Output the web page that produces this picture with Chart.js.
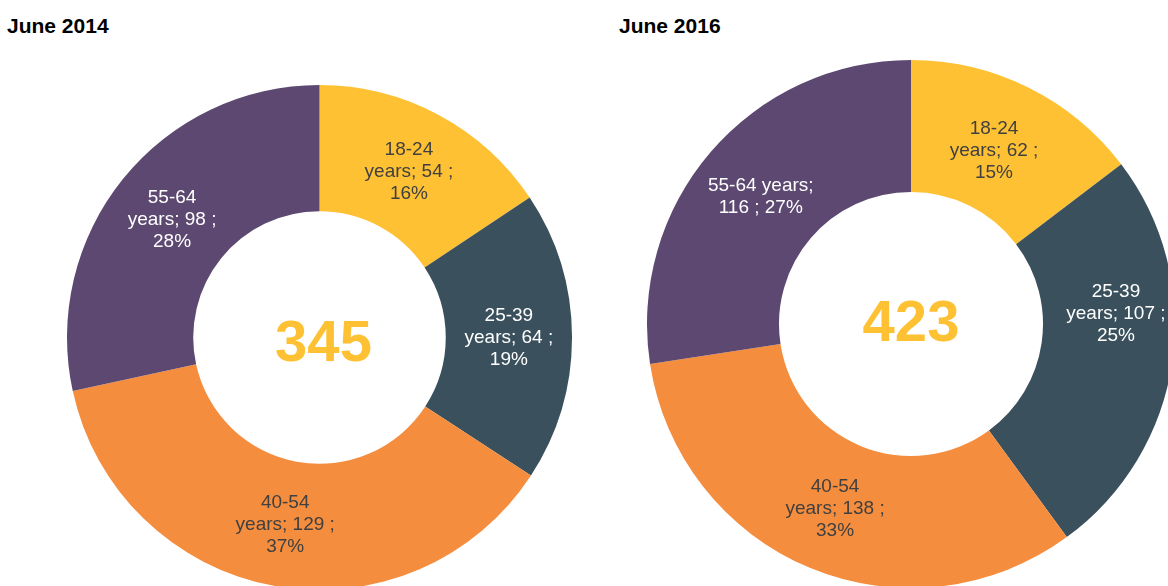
<!DOCTYPE html>
<html>
<head>
<meta charset="utf-8">
<script src="https://cdn.jsdelivr.net/npm/chart.js@4/dist/chart.umd.min.js"></script>
<style>
  html, body { margin:0; padding:0; width:1168px; height:586px; overflow:hidden; background:#fff; }
  .title { position:absolute; font-family:"Liberation Sans", Arial, sans-serif; font-weight:bold; font-size:21px; line-height:21px; color:#000; white-space:nowrap; }
  .box { position:absolute; }
</style>
</head>
<body>
<div class="title" id="t1" style="left:7px; top:15px;"></div>
<div class="title" id="t2" style="left:619px; top:15px;"></div>
<div class="box" style="left:67px; top:85px; width:505px; height:505px;"><canvas id="c1"></canvas></div>
<div class="box" style="left:647px; top:60px; width:528px; height:528px;"><canvas id="c2"></canvas></div>
<script>
// ---- data ----
const titles = ['June 2014', 'June 2016'];
const categories = ['18-24 years', '25-39 years', '40-54 years', '55-64 years'];
const values2014 = [54, 64, 129, 98];
const values2016 = [62, 107, 138, 116];

// ---- styles ----
const sliceColors = ['#FFC134', '#3A505C', '#F58D3E', '#5C4870'];
const labelColors = ['#404040', '#FFFFFF', '#404040', '#FFFFFF'];

document.getElementById('t1').textContent = titles[0];
document.getElementById('t2').textContent = titles[1];

function wrapText(ctx, text, maxW) {
  const words = text.split(' ');
  const lines = [];
  let cur = '';
  for (const w of words) {
    const test = cur ? cur + ' ' + w : w;
    if (cur && ctx.measureText(test).width > maxW) {
      lines.push(cur);
      cur = w;
    } else {
      cur = test;
    }
  }
  if (cur) lines.push(cur);
  return lines;
}

const sliceLabels = {
  id: 'sliceLabels',
  afterDatasetsDraw(chart, args, opts) {
    const ctx = chart.ctx;
    const ds = chart.data.datasets[0];
    const meta = chart.getDatasetMeta(0);
    const total = ds.data.reduce((a, b) => a + b, 0);
    ctx.save();
    ctx.textAlign = 'center';
    ctx.textBaseline = 'middle';
    ctx.font = opts.font;
    meta.data.forEach((arc, i) => {
      const p = arc.tooltipPosition();
      const pct = Math.round(ds.data[i] / total * 100);
      const text = chart.data.labels[i] + '; ' + ds.data[i] + ' ; ' + pct + '%';
      const lines = wrapText(ctx, text, opts.wrap[i]);
      const off = opts.offsets[i];
      ctx.fillStyle = opts.colors[i];
      const y0 = p.y + off[1] + opts.baseShift - (lines.length - 1) * opts.lineHeight / 2;
      lines.forEach((l, k) => ctx.fillText(l, p.x + off[0], y0 + k * opts.lineHeight));
    });
    const a0 = meta.data[0];
    ctx.font = opts.centerFont;
    ctx.fillStyle = opts.centerColor;
    ctx.fillText(String(total), a0.x + opts.centerOffset[0], a0.y + opts.centerOffset[1]);
    ctx.restore();
  }
};

function makeChart(id, values, wrap, offsets, centerOffset) {
  return new Chart(document.getElementById(id), {
    type: 'doughnut',
    data: {
      labels: categories,
      datasets: [{
        data: values,
        backgroundColor: sliceColors,
        borderWidth: 0,
        hoverOffset: 0
      }]
    },
    options: {
      responsive: true,
      maintainAspectRatio: false,
      animation: false,
      cutout: '50%',
      layout: { padding: 0 },
      events: [],
      plugins: {
        legend: { display: false },
        tooltip: { enabled: false },
        title: { display: false },
        sliceLabels: {
          font: '19px "Liberation Sans", Arial, sans-serif',
          lineHeight: 22,
          baseShift: 1.5,
          colors: labelColors,
          wrap: wrap,
          offsets: offsets,
          centerFont: 'bold 58px "Liberation Sans", Arial, sans-serif',
          centerColor: '#FFC134',
          centerOffset: centerOffset
        }
      }
    },
    plugins: [sliceLabels]
  });
}

makeChart('c1', values2014, [102, 102, 102, 102], [[0,0],[0,0],[0,0],[0,0]], [4, 7]);
makeChart('c2', values2016, [102, 102, 102, 125], [[-5,3],[9,-40],[0,0],[0,0]], [0, 1]);
</script>
</body>
</html>
